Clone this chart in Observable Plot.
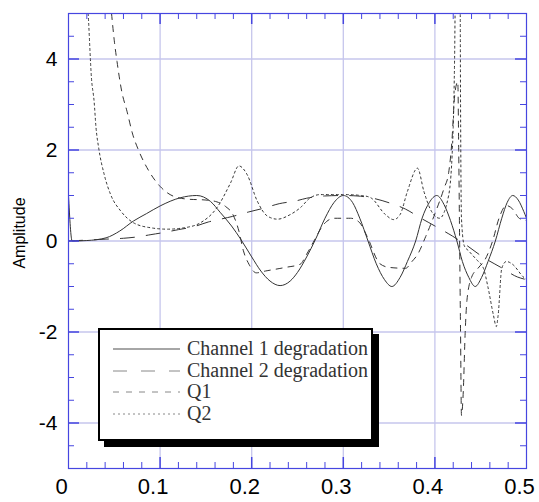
<!DOCTYPE html>
<html>
<head>
<meta charset="utf-8">
<script src="https://cdn.jsdelivr.net/npm/d3@7"></script>
<script src="https://cdn.jsdelivr.net/npm/@observablehq/plot@0.6"></script>
<style>
  html, body { margin: 0; padding: 0; background: #fff; }
  #wrap { position: relative; width: 539px; height: 502px; }
  #wrap svg { position: absolute; left: 0; top: 0; }
  #legend {
    position: absolute; left: 98px; top: 328px; width: 271px; height: 101px;
    border: 2px solid #000; background: #fff; box-shadow: 6px 6px 0 #000;
    font-family: "Liberation Serif", "Times New Roman", serif; font-size: 20px; color: #333;
    padding-top: 8px; box-sizing: content-box;
  }
  #legend .row { display: flex; align-items: center; height: 21.7px; line-height: 21.7px; white-space: nowrap; }
  #legend svg { position: static; margin-left: 13px; margin-right: 7px; flex: none; }
</style>
</head>
<body>
<div id="wrap"><div id="legend"></div></div>
<script>
// ---- data ----
const seriesNames = ["Channel 1 degradation", "Channel 2 degradation", "Q1", "Q2"];

const ch1 = [
  [0, 1.0], [0.004, 0.0], [0.02, 0.01], [0.041, 0.07], [0.056, 0.22], [0.071, 0.44],
  [0.085, 0.6], [0.1, 0.77], [0.122, 0.95], [0.14, 1.0], [0.155, 0.87], [0.166, 0.62],
  [0.178, 0.33], [0.188, 0.04], [0.2, -0.35], [0.21, -0.66], [0.22, -0.88], [0.231, -0.98],
  [0.242, -0.88], [0.25, -0.69], [0.26, -0.35], [0.27, 0.05], [0.28, 0.5], [0.29, 0.85],
  [0.3, 1.0], [0.31, 0.85], [0.318, 0.5], [0.327, 0.0], [0.336, -0.5], [0.345, -0.85],
  [0.353, -1.0], [0.362, -0.8], [0.37, -0.45], [0.379, 0.0], [0.386, 0.5], [0.394, 0.85],
  [0.402, 1.0], [0.41, 0.8], [0.417, 0.45], [0.424, 0.0], [0.43, -0.45], [0.437, -0.8],
  [0.444, -1.0], [0.451, -0.8], [0.458, -0.45], [0.466, 0.0], [0.473, 0.5], [0.479, 0.85],
  [0.485, 1.0], [0.491, 0.9], [0.497, 0.65], [0.5, 0.5]
];

const ch2 = [
  [0, 0], [0.02, 0.02], [0.04, 0.04], [0.06, 0.06], [0.075, 0.09], [0.09, 0.14],
  [0.105, 0.19], [0.12, 0.25], [0.136, 0.31], [0.153, 0.42], [0.166, 0.48], [0.179, 0.54],
  [0.197, 0.64], [0.213, 0.72], [0.23, 0.82], [0.248, 0.88], [0.26, 0.94], [0.28, 0.99],
  [0.3, 1.0], [0.315, 0.99], [0.33, 0.95], [0.35, 0.84], [0.368, 0.7], [0.384, 0.51],
  [0.4, 0.33], [0.419, 0.11], [0.435, -0.1], [0.453, -0.36], [0.472, -0.58], [0.49, -0.79],
  [0.5, -0.85]
];

const q1 = [
  [0.047, 5.0], [0.05, 4.4], [0.053, 3.94], [0.058, 3.3], [0.064, 2.84], [0.07, 2.35],
  [0.077, 1.97], [0.088, 1.53], [0.1, 1.2], [0.115, 0.98], [0.13, 0.92], [0.15, 0.9],
  [0.162, 0.86], [0.172, 0.75], [0.179, 0.6], [0.186, 0.22], [0.191, -0.22], [0.197, -0.51],
  [0.205, -0.7], [0.215, -0.66], [0.237, -0.58], [0.253, -0.51], [0.26, -0.29], [0.268, 0.0],
  [0.278, 0.35], [0.29, 0.5], [0.308, 0.5], [0.318, 0.4], [0.326, 0.1], [0.34, -0.5],
  [0.35, -0.58], [0.368, -0.6], [0.375, -0.45], [0.381, -0.3], [0.39, 0.1], [0.4, 0.6],
  [0.41, 1.16], [0.415, 1.5], [0.419, 2.33], [0.421, 3.06], [0.423, 3.4], [0.425, 3.5],
  [0.426, 2.0], [0.427, 0.0], [0.428, -2.0], [0.429, -3.83], [0.431, -3.3], [0.433, -2.04],
  [0.435, -1.3], [0.44, -0.8], [0.447, -0.6], [0.455, -0.4], [0.463, 0.0], [0.47, 0.5],
  [0.478, 0.78], [0.485, 0.7], [0.492, 0.5], [0.5, 0.45]
];

const q2 = [
  [0.0215, 5.0], [0.022, 4.8], [0.025, 3.6], [0.028, 3.06], [0.03, 2.5], [0.033, 2.04],
  [0.039, 1.46], [0.046, 1.02], [0.057, 0.66], [0.071, 0.4], [0.09, 0.29], [0.108, 0.26],
  [0.126, 0.29], [0.144, 0.4], [0.162, 0.73], [0.177, 1.28], [0.186, 1.65], [0.195, 1.46],
  [0.206, 0.88], [0.217, 0.55], [0.228, 0.48], [0.242, 0.58], [0.253, 0.73], [0.264, 0.95],
  [0.275, 1.02], [0.3, 1.02], [0.32, 1.0], [0.33, 0.95], [0.346, 0.58], [0.355, 0.47],
  [0.362, 0.58], [0.37, 1.09], [0.381, 1.6], [0.388, 1.09], [0.395, 0.7], [0.405, 0.5],
  [0.415, 1.0], [0.42, 2.5], [0.4215, 4.0], [0.4225, 5.6], [0.4275, 5.6], [0.428, 3.0],
  [0.429, 0.5], [0.432, -0.1], [0.437, -0.22], [0.445, -0.4], [0.453, -0.6], [0.458, -1.02],
  [0.464, -1.64], [0.467, -1.88], [0.469, -1.64], [0.473, -0.6], [0.478, -0.45], [0.484, -0.5],
  [0.497, -0.8], [0.5, -0.85]
];

const xTickLabels = [0, 0.1, 0.2, 0.3, 0.4, 0.5];
const yTickLabels = [-4, -2, 0, 2, 4];
const xGrid = [0.1, 0.2, 0.3, 0.4];
const yGrid = [-4, -2, 0, 2, 4];
const xMinorTicks = [0.02,0.04,0.06,0.08,0.12,0.14,0.16,0.18,0.22,0.24,0.26,0.28,0.32,0.34,0.36,0.38,0.42,0.44,0.46,0.48];
const yMinorTicks = [-4.5,-3.5,-3,-2.5,-1.5,-1,-0.5,0.5,1,1.5,2.5,3,3.5,4.5];

// ---- styles ----
const W = 539, H = 502, mL = 68, mR = 13, mT = 13, mB = 34;
const innerW = W - mL - mR, innerH = H - mT - mB;
const blue = "#4646e0", gridCol = "#c6c6ec", ink = "#333";
const minorLen = 6, majorLen = 11;
const styles = [
  {data: ch1, dash: null},
  {data: ch2, dash: "14,12"},
  {data: q1, dash: "6,6"},
  {data: q2, dash: "2,3"}
];
const legendDash = [null, "14,14", "6,7", "2,3"];

const pts = (arr) => arr.map(([x, y]) => ({x, y}));

const chart = Plot.plot({
  width: W, height: H,
  marginLeft: mL, marginRight: mR, marginTop: mT, marginBottom: mB,
  x: {domain: [0, 0.5]},
  y: {domain: [-5, 5]},
  style: {fontFamily: "Arial, 'Liberation Sans', sans-serif", background: "transparent"},
  marks: [
    Plot.gridX(xGrid, {stroke: gridCol, strokeOpacity: 1, strokeWidth: 1.3}),
    Plot.gridY(yGrid, {stroke: gridCol, strokeOpacity: 1, strokeWidth: 1.3}),
    ...styles.map(s => Plot.line(pts(s.data), {
      x: "x", y: "y", stroke: ink, strokeWidth: 1, curve: "monotone-x",
      strokeDasharray: s.dash, clip: true
    })),
    // minor ticks, all four sides, drawn inward
    Plot.tickX(xMinorTicks, {x: d => d, stroke: blue, insetTop: innerH - minorLen}),
    Plot.tickX(xMinorTicks, {x: d => d, stroke: blue, insetBottom: innerH - minorLen}),
    Plot.tickY(yMinorTicks, {y: d => d, stroke: blue, insetRight: innerW - minorLen}),
    Plot.tickY(yMinorTicks, {y: d => d, stroke: blue, insetLeft: innerW - minorLen}),
    // major ticks
    Plot.tickX(xGrid, {x: d => d, stroke: blue, strokeWidth: 1.5, insetTop: innerH - majorLen}),
    Plot.tickX(xGrid, {x: d => d, stroke: blue, strokeWidth: 1.5, insetBottom: innerH - majorLen}),
    Plot.tickY(yGrid, {y: d => d, stroke: blue, strokeWidth: 1.5, insetRight: innerW - majorLen}),
    Plot.tickY(yGrid, {y: d => d, stroke: blue, strokeWidth: 1.5, insetLeft: innerW - majorLen}),
    Plot.frame({stroke: blue, strokeWidth: 1.2}),
    Plot.axisX(xTickLabels, {tickSize: 0, tickPadding: 10, dx: -7, fontSize: 22, fill: "#000", tickFormat: d => String(d), label: null}),
    Plot.axisY(yTickLabels, {tickSize: 0, tickPadding: 11, fontSize: 21, fill: "#000", tickFormat: d => String(d), label: null}),
    Plot.text(["Amplitude"], {frameAnchor: "left", rotate: -90, textAnchor: "middle", dx: -49, dy: -8, fontSize: 16, fill: "#000"})
  ]
});
document.getElementById("wrap").insertBefore(chart, document.getElementById("legend"));

// ---- legend ----
const legend = document.getElementById("legend");
seriesNames.forEach((name, i) => {
  const row = document.createElement("div");
  row.className = "row";
  const ns = "http://www.w3.org/2000/svg";
  const svg = document.createElementNS(ns, "svg");
  svg.setAttribute("width", 67); svg.setAttribute("height", 6);
  const ln = document.createElementNS(ns, "line");
  ln.setAttribute("x1", 0); ln.setAttribute("x2", 67);
  ln.setAttribute("y1", 3); ln.setAttribute("y2", 3);
  ln.setAttribute("stroke", "#888"); ln.setAttribute("stroke-width", i === 0 ? 1.5 : 1);
  if (legendDash[i]) ln.setAttribute("stroke-dasharray", legendDash[i]);
  svg.appendChild(ln);
  row.appendChild(svg);
  const span = document.createElement("span");
  span.textContent = name;
  row.appendChild(span);
  legend.appendChild(row);
});
</script>
</body>
</html>
